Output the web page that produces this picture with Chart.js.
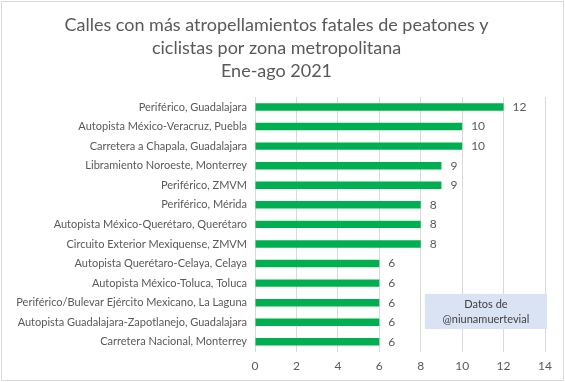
<!DOCTYPE html>
<html><head><meta charset="utf-8">
<script src="https://cdn.jsdelivr.net/npm/chart.js@4/dist/chart.umd.min.js"></script>
<style>html,body{margin:0;padding:0;background:#fff;}#wrap{position:relative;width:565px;height:382px;}</style>
</head><body><div id="wrap"><canvas id="c" width="565" height="382"></canvas></div>
<script>
const categories = [
  "Periférico, Guadalajara",
  "Autopista México-Veracruz, Puebla",
  "Carretera a Chapala, Guadalajara",
  "Libramiento Noroeste, Monterrey",
  "Periférico, ZMVM",
  "Periférico, Mérida",
  "Autopista México-Querétaro, Querétaro",
  "Circuito Exterior Mexiquense, ZMVM",
  "Autopista Querétaro-Celaya, Celaya",
  "Autopista México-Toluca, Toluca",
  "Periférico/Bulevar Ejército Mexicano, La Laguna",
  "Autopista Guadalajara-Zapotlanejo, Guadalajara",
  "Carretera Nacional, Monterrey"
];
const values = [12, 10, 10, 9, 9, 8, 8, 8, 6, 6, 6, 6, 6];
const titleLines = ["Calles con más atropellamientos fatales de peatones y", "ciclistas por zona metropolitana", "Ene-ago 2021"];
const noteLines = ["Datos de", "@niunamuertevial"];
const xTicks = [0, 2, 4, 6, 8, 10, 12, 14];

const FONT = "Lato, 'Open Sans', sans-serif";
const GREY = "#595959";

const valueLabels = {
  id: 'valueLabels',
  afterDatasetsDraw(chart) {
    const ctx = chart.ctx;
    const meta = chart.getDatasetMeta(0);
    ctx.save();
    ctx.font = "12px " + FONT;
    ctx.fillStyle = GREY;
    ctx.textBaseline = 'middle';
    ctx.textAlign = 'left';
    meta.data.forEach((bar, i) => {
      ctx.fillText(String(values[i]), bar.x + 9, bar.y);
    });
    ctx.restore();
  }
};
const noteBox = {
  id: 'noteBox',
  afterDatasetsDraw(chart) {
    const ctx = chart.ctx;
    const xs = chart.scales.x, ys = chart.scales.y;
    const x0 = xs.getPixelForValue(8.2), x1 = xs.getPixelForValue(14.1);
    const y0 = ys.getPixelForValue(9.55), y1 = ys.getPixelForValue(11.35);
    ctx.save();
    ctx.fillStyle = "#dae3f3";
    ctx.fillRect(x0, y0, x1 - x0, y1 - y0);
    ctx.fillStyle = "#404040";
    ctx.font = "11px " + FONT;
    ctx.textAlign = 'center';
    ctx.textBaseline = 'middle';
    const cx = (x0 + x1) / 2, cy = (y0 + y1) / 2;
    ctx.fillText(noteLines[0], cx, cy - 7);
    ctx.fillText(noteLines[1], cx, cy + 8);
    ctx.restore();
  }
};
const frame = {
  id: 'frame',
  beforeDraw(chart) {
    const ctx = chart.ctx;
    ctx.save();
    ctx.fillStyle = '#fff';
    ctx.fillRect(0, 0, chart.width, chart.height);
    ctx.strokeStyle = '#d9d9d9';
    ctx.lineWidth = 1;
    ctx.strokeRect(1.5, 1.5, chart.width - 3, chart.height - 3);
    ctx.restore();
  }
};

new Chart(document.getElementById('c'), {
  type: 'bar',
  data: {
    labels: categories,
    datasets: [{
      data: values,
      backgroundColor: '#00b050',
      borderWidth: 0,
      barPercentage: 0.38,
      categoryPercentage: 1.0
    }]
  },
  options: {
    indexAxis: 'y',
    responsive: false,
    animation: false,
    devicePixelRatio: 1,
    layout: { padding: { left: 8, right: 20, top: 0, bottom: 2 } },
    plugins: {
      legend: { display: false },
      tooltip: { enabled: false },
      title: {
        display: true,
        text: titleLines,
        color: GREY,
        font: { family: FONT, size: 18, weight: 'normal', lineHeight: 1.3 },
        padding: { top: 13, bottom: 14 }
      }
    },
    scales: {
      x: {
        min: 0, max: 14,
        afterBuildTicks(scale) { scale.ticks = xTicks.map(v => ({ value: v })); },
        ticks: { color: GREY, font: { family: FONT, size: 12 }, padding: 7 },
        grid: { color: '#d9d9d9', drawTicks: false },
        border: { display: false }
      },
      y: {
        ticks: { color: GREY, font: { family: FONT, size: 11 }, padding: 8, autoSkip: false },
        grid: { display: false, drawTicks: false },
        border: { display: true, color: '#d9d9d9' },
        afterFit(scale) { scale.width = 247; }
      }
    }
  },
  plugins: [frame, valueLabels, noteBox]
});
</script>
</body></html>
